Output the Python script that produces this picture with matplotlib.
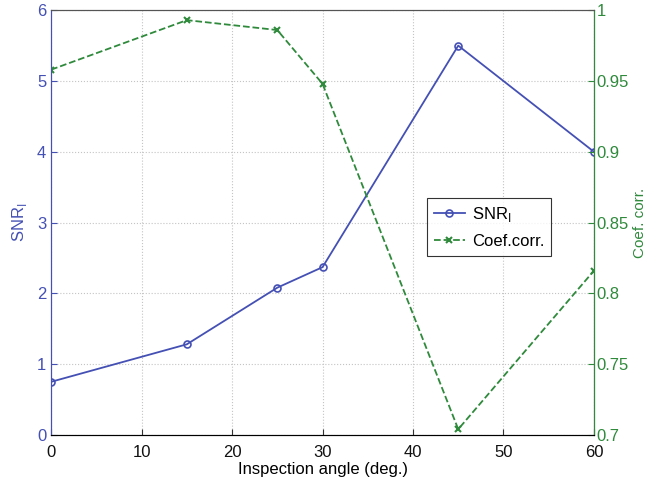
import matplotlib
matplotlib.use('Agg')
import matplotlib.pyplot as plt

plt.rcParams['font.family'] = ['Liberation Sans', 'DejaVu Sans']

angles = [0, 15, 25, 30, 45, 60]
snr = [0.75, 1.28, 2.08, 2.37, 5.50, 4.00]
coef_corr = [0.958, 0.993, 0.986, 0.948, 0.704, 0.816]

BLUE = '#4450b4'
GREEN = '#2f8a3c'

fig = plt.figure(figsize=(6.47, 4.87), dpi=100)
ax = fig.add_axes([0.079, 0.107, 0.839, 0.872])
ax2 = ax.twinx()

l1, = ax.plot(angles, snr, color=BLUE, lw=1.3, marker='o', ms=5,
              mfc='none', mew=1.2, label='SNR$_\\mathregular{I}$')
l2, = ax2.plot(angles, coef_corr, color=GREEN, lw=1.3, ls='--', marker='x',
               ms=4, mew=1.5, label='Coef.corr.')

ax.set_xlim(0, 60)
ax.set_ylim(0, 6)
ax2.set_ylim(0.7, 1.0)
ax.set_xticks(range(0, 61, 10))
ax.set_yticks(range(0, 7))
ax2.set_yticks([0.7, 0.75, 0.8, 0.85, 0.9, 0.95, 1.0])
ax2.set_yticklabels(['0.7', '0.75', '0.8', '0.85', '0.9', '0.95', '1'])

ax.grid(True, ls=':', color='#c4c4c4', lw=0.8)
for a in (ax, ax2):
    a.tick_params(direction='in', labelsize=12, length=4)
ax.tick_params(axis='y', colors=BLUE, labelcolor=BLUE)
ax.tick_params(axis='x', colors='#333333', labelcolor='#111111', pad=7)
ax2.tick_params(axis='y', colors=GREEN, labelcolor=GREEN, pad=2)

ax.spines['left'].set_color(BLUE)
ax2.spines['left'].set_color(BLUE)
ax2.spines['right'].set_color(GREEN)
ax.spines['top'].set_color('#555555')
ax2.spines['top'].set_color('#555555')
ax.spines['bottom'].set_color('#333333')

ax.set_xlabel('Inspection angle (deg.)', fontsize=12, labelpad=2)
ax.set_ylabel('SNR$_\\mathregular{I}$', fontsize=12, color=BLUE, labelpad=6)
ax2.set_ylabel('Coef. corr.', fontsize=11, color=GREEN, labelpad=3)

leg = ax2.legend([l1, l2], [l1.get_label(), l2.get_label()],
                 loc='upper left', bbox_to_anchor=(0.677, 0.577),
                 fontsize=12, frameon=True, fancybox=False, edgecolor='black',
                 handlelength=1.9, handletextpad=0.4, borderpad=0.4,
                 labelspacing=0.6)
leg.get_frame().set_linewidth(0.8)

fig.savefig('out.png', dpi=100)
